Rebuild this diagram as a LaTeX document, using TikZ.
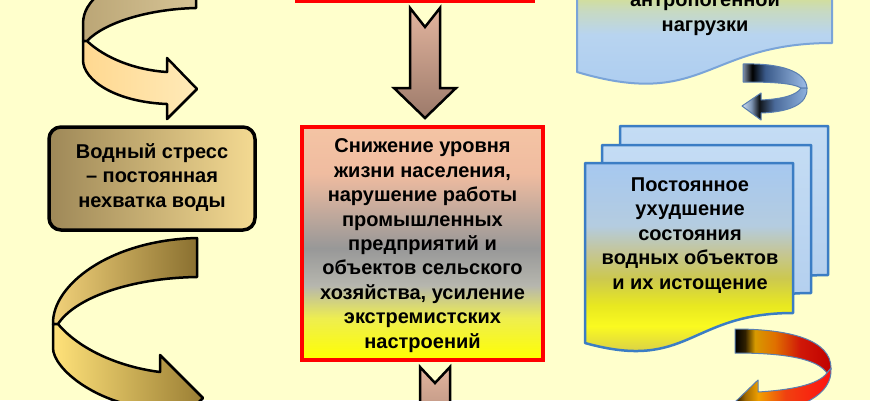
\documentclass[tikz,border=0pt]{standalone}
\usepackage{fontspec}
\setmainfont{Liberation Sans}
\definecolor{bg}{HTML}{FFFFCC}
\definecolor{redline}{HTML}{FF0000}
\definecolor{docblue}{HTML}{3B7DC4}
\definecolor{docblue2}{HTML}{7AA4D8}
\definecolor{ltbA}{HTML}{BBA676}
\definecolor{ltbB}{HTML}{D6C496}
\definecolor{ltfA}{HTML}{FFD890}
\definecolor{ltfB}{HTML}{FFEAB8}
\definecolor{lbbA}{HTML}{F2D27A}
\definecolor{lbbB}{HTML}{8A7030}
\definecolor{lbfA}{HTML}{FFE27A}
\definecolor{lbfB}{HTML}{9A7E34}
\definecolor{boxA}{HTML}{9E8858}
\definecolor{boxB}{HTML}{F4DA92}
\definecolor{topbox}{HTML}{FFFF00}
\definecolor{docA}{HTML}{C4DCF4}
\definecolor{docB}{HTML}{AECBEC}
\definecolor{downA}{HTML}{E2B49E}
\definecolor{downB}{HTML}{9C7A6A}
\definecolor{m1}{HTML}{FFFF00}
\definecolor{m2}{HTML}{EEEE50}
\definecolor{m3}{HTML}{B6B6AE}
\definecolor{m4}{HTML}{989898}
\definecolor{m5}{HTML}{F0BCA0}
\definecolor{m6}{HTML}{F4C4A4}
\definecolor{f1}{HTML}{A8A060}
\definecolor{f2}{HTML}{E0D840}
\definecolor{f3}{HTML}{FAFA20}
\definecolor{f4}{HTML}{E8E820}
\definecolor{f5}{HTML}{CCC850}
\definecolor{f6}{HTML}{C4C69A}
\definecolor{f7}{HTML}{B4CCE0}
\definecolor{f8}{HTML}{A6C8F0}
\definecolor{t1}{HTML}{A8CAF0}
\definecolor{t2}{HTML}{B8D4F0}
\definecolor{t3}{HTML}{C8DAC0}
\definecolor{t4}{HTML}{D6E08C}
\definecolor{t5}{HTML}{DCE080}
\definecolor{ba1}{HTML}{8090A8}
\definecolor{ba2}{HTML}{000000}
\definecolor{ba3}{HTML}{3A5A8A}
\definecolor{ba4}{HTML}{A0C0EA}
\definecolor{bf1}{HTML}{D0E0F4}
\definecolor{bf2}{HTML}{8098B8}
\definecolor{bf3}{HTML}{101418}
\definecolor{bf4}{HTML}{4A6A9A}
\definecolor{bf5}{HTML}{90B4E0}
\definecolor{ra1}{HTML}{000000}
\definecolor{ra2}{HTML}{302000}
\definecolor{ra3}{HTML}{D89A00}
\definecolor{ra4}{HTML}{E07000}
\definecolor{ra5}{HTML}{D01808}
\definecolor{ra6}{HTML}{C00000}
\definecolor{rf1}{HTML}{000000}
\definecolor{rf2}{HTML}{A06800}
\definecolor{rf3}{HTML}{F0A000}
\definecolor{rf4}{HTML}{F04010}
\definecolor{rf5}{HTML}{FF1010}
\definecolor{ribbonedge}{HTML}{5A7FB0}
\pgfdeclareverticalshading{midshade}{100bp}{color(0bp)=(m1); color(25bp)=(m1); color(34bp)=(m2); color(41bp)=(m3); color(49bp)=(m4); color(65bp)=(m5); color(75bp)=(m6); color(100bp)=(m6)}
\pgfdeclareverticalshading{frontshade}{100bp}{color(0bp)=(f1); color(25bp)=(f1); color(31bp)=(f2); color(36bp)=(f3); color(41bp)=(f4); color(47.5bp)=(f5); color(54bp)=(f6); color(60bp)=(f7); color(75bp)=(f8); color(100bp)=(f8)}
\pgfdeclareverticalshading{topdocshade}{100bp}{color(0bp)=(t1); color(25bp)=(t1); color(54bp)=(t2); color(63.4bp)=(t3); color(69.7bp)=(t4); color(75bp)=(t5); color(100bp)=(t5)}
\pgfdeclarehorizontalshading{bluebackshade}{100bp}{color(0bp)=(ba1); color(25bp)=(ba1); color(32bp)=(ba2); color(42bp)=(ba3); color(75bp)=(ba4); color(100bp)=(ba4)}
\pgfdeclarehorizontalshading{bluefrontshade}{100bp}{color(0bp)=(bf1); color(25bp)=(bf1); color(31.9bp)=(bf2); color(38.1bp)=(bf3); color(49.6bp)=(bf4); color(75bp)=(bf5); color(100bp)=(bf5)}
\pgfdeclarehorizontalshading{redbackshade}{100bp}{color(0bp)=(ra1); color(26bp)=(ra1); color(31.1bp)=(ra2); color(36.1bp)=(ra3); color(46.2bp)=(ra4); color(58.8bp)=(ra5); color(75bp)=(ra6); color(100bp)=(ra6)}
\pgfdeclarehorizontalshading{redfrontshade}{100bp}{color(0bp)=(rf1); color(25bp)=(rf1); color(31.1bp)=(rf2); color(37.6bp)=(rf3); color(51.3bp)=(rf4); color(75bp)=(rf5); color(100bp)=(rf5)}
\tikzset{
  lbl/.style={font=\fontsize{20}{24.4}\selectfont\bfseries, align=center, text=black, inner sep=0pt},
  ribbon/.style={draw=black, line width=2.5pt, line join=round},
  downarrow/.style={draw=black, line width=2.5pt, line join=miter, top color=downA, bottom color=downB},
  docshape/.style={draw=docblue, line width=2.5pt, line join=round},
  thinribbon/.style={draw=ribbonedge, line width=1pt, line join=round}
}
\begin{document}
\begin{tikzpicture}[x=1pt,y=-1pt]
\useasboundingbox (0,0) rectangle (870,400);
\fill[bg] (0,0) rectangle (870,400);
\begin{scope}
\clip (0,0) rectangle (870,400);

% ---------- left column ----------
\draw[ribbon, path picture={\shade[left color=ltbA, right color=ltbB] (83,-45) rectangle (197,45);}]
  (196,-40) -- (196,8) .. controls (150,9) and (105,22) .. (87,41) -- (83,41) -- (83,25)
  .. controls (83,10) and (88,-20) .. (196,-40) -- cycle;
\draw[ribbon, path picture={\shade[left color=ltfA, right color=ltfB] (83,40) rectangle (197,120);}]
  (83,41) -- (87,41) .. controls (105,58) and (135,70) .. (167,72) -- (167,58) -- (197,89)
  -- (167,119) -- (167,104) .. controls (115,102) and (83,80) .. (83,60) -- cycle;

\node[draw=black, line width=3.5pt, rounded corners=12pt, minimum width=206pt, minimum height=103pt,
      left color=boxA, right color=boxB] (stressbox) at (152,178.5) {};
\node[lbl] (stress) at (152,177.5) {Водный стресс\\– постоянная\\нехватка воды};

\draw[ribbon, path picture={\shade[left color=lbbA, right color=lbbB] (53,235) rectangle (197,330);}]
  (197,238) -- (197,277) .. controls (130,278) and (75,298) .. (58,324) -- (53,324)
  .. controls (52,285) and (110,240) .. (197,238) -- cycle;
\draw[ribbon, path picture={\shade[left color=lbfA, right color=lbfB] (53,320) rectangle (203,445);}]
  (53,324) -- (58,324) .. controls (80,350) and (120,367) .. (160,372) -- (160,355) -- (203,398)
  -- (160,441) -- (160,410) .. controls (95,405) and (53,368) .. (53,348) -- cycle;

% ---------- middle column ----------
\draw[draw=redline, line width=4pt, fill=topbox] (297,-30) rectangle (533,1);
\draw[downarrow] (410,8) -- (425,27) -- (440,8) -- (440,88) -- (456,88) -- (425,118) -- (394,88) -- (410,88) -- cycle;
\node[draw=redline, line width=4pt, minimum width=241pt, minimum height=233pt,
      shading=midshade] (declinebox) at (422.5,243.5) {};
\node[lbl] (decline) at (422.5,245.5)
  {Снижение уровня\\жизни населения,\\нарушение работы\\промышленных\\предприятий и\\объектов сельского\\хозяйства, усиление\\экстремистских\\настроений};
\draw[downarrow] (420,367) -- (435,383) -- (450,367) -- (450,430) -- (466,430) -- (435,460) -- (404,430) -- (420,430) -- cycle;

% ---------- right column ----------
\draw[draw=docblue2, line width=2pt, line join=round,
      path picture={\shade[shading=topdocshade] (577,-10) rectangle (832,85);}]
  (577,-20) -- (832,-20) -- (832,43) .. controls (705,43) and (705,110) .. (577,72) -- cycle;
\node[lbl] (load) at (705,13.5) {антропогенной\\нагрузки};

\draw[thinribbon, path picture={\shade[shading=bluebackshade] (743,55) rectangle (808,125);}]
  (743,64) .. controls (782,63) and (806,72) .. (807,88) -- (801,88)
  .. controls (793,83) and (772,82) .. (743,82) -- cycle;
\draw[thinribbon, path picture={\shade[shading=bluefrontshade] (743,55) rectangle (808,125);}]
  (807,88) .. controls (808,104) and (790,112) .. (761,113) -- (761,120) -- (742,106) -- (761,93)
  -- (761,100) .. controls (783,99) and (797,95) .. (801,88) -- cycle;

\draw[docshape, top color=docA, bottom color=docB]
  (620,126) -- (828,126) -- (828,275) .. controls (724,275) and (724,334) .. (620,305) -- cycle;
\draw[docshape, top color=docA, bottom color=docB]
  (602,145) -- (811,145) -- (811,293) .. controls (706,293) and (706,352) .. (602,323) -- cycle;
\draw[docshape, path picture={\shade[shading=frontshade] (585,163) rectangle (793,352);}]
  (585,163) -- (793,163) -- (793,313) .. controls (689,313) and (689,372) .. (585,343) -- cycle;
\node[lbl] (deter) at (690,235.5) {Постоянное\\ухудшение\\состояния\\водных объектов\\и их истощение};

\draw[thinribbon, path picture={\shade[shading=redbackshade] (733,320) rectangle (832,440);}]
  (735,329) .. controls (790,329) and (831,340) .. (831,368) -- (827,373)
  .. controls (818,360) and (790,353) .. (735,353) -- cycle;
\draw[thinribbon, path picture={\shade[shading=redfrontshade] (733,320) rectangle (832,440);}]
  (831,368) .. controls (833,395) and (800,410) .. (758,414) -- (758,428) -- (733,404) -- (758,380)
  -- (758,392) .. controls (790,390) and (818,385) .. (827,373) -- cycle;
\end{scope}
\end{tikzpicture}
\end{document}
